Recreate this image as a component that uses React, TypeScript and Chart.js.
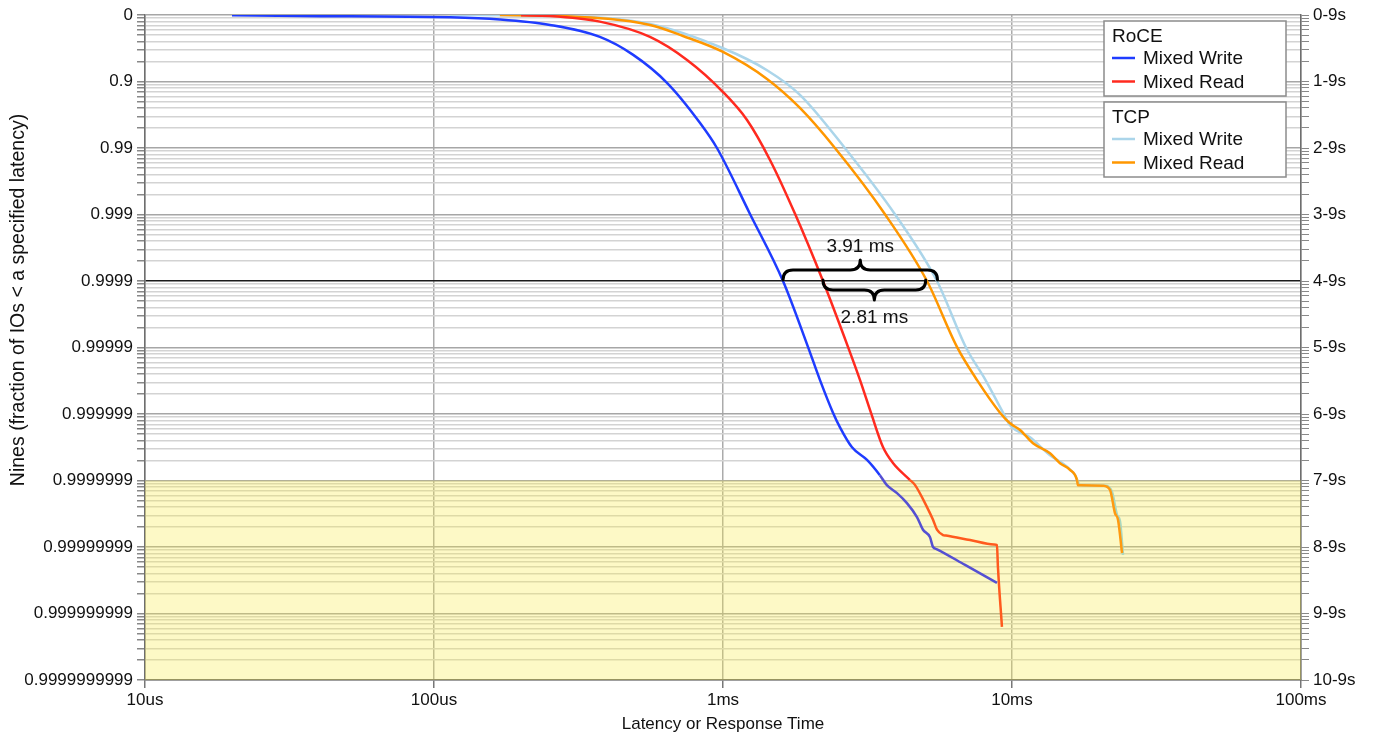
import React, { useEffect, useRef } from 'react';
import { Chart, registerables } from 'chart.js';
Chart.register(...registerables);

// Axis ticks
const xTickValues = [0.01, 0.1, 1, 10, 100]; // ms
const xTickLabels = ['10us', '100us', '1ms', '10ms', '100ms'];
const leftTickLabels = ['0', '0.9', '0.99', '0.999', '0.9999', '0.99999', '0.999999', '0.9999999', '0.99999999', '0.999999999', '0.9999999999'];
const rightTickLabels = ['0-9s', '1-9s', '2-9s', '3-9s', '4-9s', '5-9s', '6-9s', '7-9s', '8-9s', '9-9s', '10-9s'];

// RoCE Mixed Write (latency ms, nines)
const roceWriteMs = [0.02, 0.0344, 0.1136, 0.169, 0.252, 0.375, 0.489, 0.64, 0.833, 0.953, 1.24, 1.613, 1.968, 2.166, 2.402, 2.54, 2.795, 3.15, 3.49, 3.69, 4.0, 4.33, 4.69, 4.92, 5.2, 5.33, 5.5, 6.88, 8.87];
const roceWriteNines = [0.005, 0.015, 0.035, 0.068, 0.15, 0.33, 0.6, 1.02, 1.624, 2.0, 2.992, 4.0, 4.99, 5.49, 5.98, 6.2, 6.5, 6.69, 6.92, 7.07, 7.19, 7.34, 7.55, 7.74, 7.85, 8.0, 8.034, 8.27, 8.54];

// RoCE Mixed Read
const roceReadMs = [0.2, 0.252, 0.375, 0.559, 0.751, 1.0, 1.211, 1.454, 1.775, 2.218, 2.707, 2.98, 3.25, 3.58, 3.88, 4.43, 4.62, 5.08, 5.33, 5.5, 5.77, 5.91, 7.16, 8.66, 8.87, 8.94, 9.23];
const roceReadNines = [0.005, 0.015, 0.1, 0.33, 0.677, 1.158, 1.579, 2.18, 2.99, 4.0, 4.99, 5.49, 5.98, 6.5, 6.74, 6.99, 7.07, 7.4, 7.59, 7.74, 7.82, 7.828, 7.895, 7.961, 7.97, 8.3, 9.2];

// TCP Mixed Write
const tcpWriteMs = [0.1136, 0.273, 0.559, 1.0, 1.42, 1.846, 2.64, 3.94, 5.5, 6.93, 8.1, 9.31, 9.84, 11.54, 13.54, 15.26, 16.52, 17.19, 17.6, 20.98, 22.18, 23.1, 23.64, 24.22];
const tcpWriteNines = [0.0, 0.015, 0.135, 0.5, 0.83, 1.2, 2.0, 3.0, 4.0, 5.0, 5.49, 5.98, 6.17, 6.35, 6.62, 6.77, 6.92, 7.07, 7.075, 7.08, 7.17, 7.52, 7.61, 8.12];

// TCP Mixed Read
const tcpReadMs = [0.169, 0.273, 0.559, 0.727, 1.0, 1.42, 1.846, 2.44, 3.64, 5.08, 6.45, 7.57, 9.09, 9.84, 10.66, 11.82, 13.54, 14.66, 15.87, 16.78, 16.91, 17.3, 20.65, 21.83, 22.71, 23.27, 24.03];
const tcpReadNines = [0.0, 0.015, 0.15, 0.316, 0.556, 0.962, 1.398, 2.0, 3.0, 4.0, 4.99, 5.49, 5.98, 6.14, 6.24, 6.44, 6.59, 6.74, 6.84, 6.99, 7.07, 7.07, 7.08, 7.14, 7.49, 7.59, 8.09];

// Annotations at the 4-nines level
const gapLevelNines = 4;
const gapStartMs = [1.613, 2.218];
const gapWidthMs = [3.91, 2.81];
const gapLabels = ['3.91 ms', '2.81 ms'];
const shadedFromNines = 7;

const legendGroups = ['RoCE', 'TCP'];
const legendNames = ['Mixed Write', 'Mixed Read'];

const COLORS = {
  roceWrite: '#1f3cff',
  roceRead: '#ff2a1f',
  tcpWrite: '#abd5ea',
  tcpRead: '#ff9700',
};
const SHADED = {
  roceWrite: '#5550d2',
  roceRead: '#ff5a1e',
  tcpWrite: '#a9d8c0',
  tcpRead: '#ff9a10',
};

const FONT = '"Liberation Sans", Arial, Helvetica, sans-serif';

function buildYTicks() {
  const t: { value: number }[] = [];
  for (let n = 0; n < 10; n++) {
    t.push({ value: n });
    for (let k = 9; k >= 2; k--) t.push({ value: n + 1 - Math.log10(k) });
  }
  t.push({ value: 10 });
  return t;
}
const isMajor = (v: number) => Math.abs(v - Math.round(v)) < 1e-9;

function toPoints(xs: number[], ys: number[]) {
  return xs.map((x, i) => ({ x, y: ys[i] }));
}

function drawBrace(ctx: CanvasRenderingContext2D, x1: number, x2: number, y: number, dir: number) {
  const h = 10 * dir;
  const tip = 20 * dir;
  const r = 10;
  const m = (x1 + x2) / 2;
  ctx.beginPath();
  ctx.moveTo(x1, y);
  ctx.quadraticCurveTo(x1, y + h, x1 + r, y + h);
  ctx.lineTo(m - r, y + h);
  ctx.quadraticCurveTo(m, y + h, m, y + tip);
  ctx.quadraticCurveTo(m, y + h, m + r, y + h);
  ctx.lineTo(x2 - r, y + h);
  ctx.quadraticCurveTo(x2, y + h, x2, y);
  ctx.stroke();
}

const customPlugin = {
  id: 'custom',
  beforeDatasetsDraw(chart: any) {
    const { ctx, chartArea, scales } = chart;
    const y7 = scales.y.getPixelForValue(shadedFromNines);
    ctx.save();
    ctx.fillStyle = 'rgba(248,235,65,0.3)';
    ctx.fillRect(chartArea.left, y7, chartArea.right - chartArea.left, chartArea.bottom - y7);
    ctx.restore();
  },
  afterDatasetsDraw(chart: any) {
    const { ctx, scales } = chart;
    const yLevel = scales.y.getPixelForValue(gapLevelNines) - 1;
    ctx.save();
    ctx.strokeStyle = '#000';
    ctx.lineWidth = 3;
    ctx.lineCap = 'round';
    ctx.lineJoin = 'round';
    ctx.fillStyle = '#111';
    ctx.font = `19px ${FONT}`;
    ctx.textAlign = 'center';
    ctx.textBaseline = 'middle';
    gapStartMs.forEach((start, i) => {
      const x1 = scales.x.getPixelForValue(start);
      const x2 = scales.x.getPixelForValue(start + gapWidthMs[i]);
      const dir = i === 0 ? -1 : 1;
      drawBrace(ctx, x1, x2, yLevel, dir);
      const m = (x1 + x2) / 2;
      ctx.fillText(gapLabels[i], m, yLevel + (i === 0 ? -33 : 38));
    });
    ctx.restore();
  },
  afterDraw(chart: any) {
    const { ctx, chartArea } = chart;
    ctx.save();
    // axis titles
    ctx.fillStyle = '#111';
    ctx.font = `17px ${FONT}`;
    ctx.textAlign = 'center';
    ctx.textBaseline = 'middle';
    ctx.fillText('Latency or Response Time', (chartArea.left + chartArea.right) / 2, 724);
    ctx.save();
    ctx.font = `19.5px ${FONT}`;
    ctx.translate(19, 300);
    ctx.rotate(-Math.PI / 2);
    ctx.fillText('Nines (fraction of IOs < a specified latency)', 0, 0);
    ctx.restore();

    // legend boxes
    const colorsByGroup = [
      [COLORS.roceWrite, COLORS.roceRead],
      [COLORS.tcpWrite, COLORS.tcpRead],
    ];
    const boxLeft = 1104, boxW = 182, boxH = 75;
    const boxTops = [21, 102];
    legendGroups.forEach((g, gi) => {
      const top = boxTops[gi];
      ctx.fillStyle = '#fff';
      ctx.fillRect(boxLeft, top, boxW, boxH);
      ctx.strokeStyle = '#8c8c8c';
      ctx.lineWidth = 1.5;
      ctx.strokeRect(boxLeft, top, boxW, boxH);
      ctx.fillStyle = '#111';
      ctx.font = `19px ${FONT}`;
      ctx.textAlign = 'left';
      ctx.textBaseline = 'middle';
      ctx.fillText(g, 1112, top + 16);
      legendNames.forEach((name, ni) => {
        const y = top + 37 + ni * 23.5;
        ctx.strokeStyle = colorsByGroup[gi][ni];
        ctx.lineWidth = 2.5;
        ctx.beginPath();
        ctx.moveTo(1112, y);
        ctx.lineTo(1135, y);
        ctx.stroke();
        ctx.fillStyle = '#111';
        ctx.fillText(name, 1143, y + 1);
      });
    });
    ctx.restore();
  },
};

function makeDataset(label: string, xs: number[], ys: number[], color: string, shaded: string, order: number) {
  return {
    label,
    data: toPoints(xs, ys),
    borderColor: color,
    backgroundColor: color,
    borderWidth: 2.5,
    pointRadius: 0,
    cubicInterpolationMode: 'monotone' as const,
    order,
    segment: {
      borderColor: (c: any) => (c.p1.parsed.y > shadedFromNines + 0.02 ? shaded : undefined),
    },
  };
}

export default function App() {
  const ref = useRef<HTMLCanvasElement | null>(null);
  useEffect(() => {
    document.body.style.margin = '0';
    document.body.style.overflow = 'hidden';
    const canvas = ref.current;
    if (!canvas) return;
    const yTickOpts = (labels: string[]) => ({
      autoSkip: false,
      font: { family: FONT, size: 17 },
      color: '#111',
      padding: 4,
      callback: (v: any) => (isMajor(Number(v)) ? labels[Math.round(Number(v))] : ''),
    });
    const chart = new Chart(canvas, {
      type: 'line',
      data: {
        datasets: [
          makeDataset('RoCE Mixed Write', roceWriteMs, roceWriteNines, COLORS.roceWrite, SHADED.roceWrite, 0),
          makeDataset('RoCE Mixed Read', roceReadMs, roceReadNines, COLORS.roceRead, SHADED.roceRead, 1),
          makeDataset('TCP Mixed Read', tcpReadMs, tcpReadNines, COLORS.tcpRead, SHADED.tcpRead, 2),
          makeDataset('TCP Mixed Write', tcpWriteMs, tcpWriteNines, COLORS.tcpWrite, SHADED.tcpWrite, 3),
        ],
      },
      options: {
        animation: false,
        responsive: false,
        maintainAspectRatio: false,
        devicePixelRatio: 1,
        layout: { padding: { top: 15, left: 0, right: 0, bottom: 0 } },
        plugins: { legend: { display: false }, tooltip: { enabled: false } },
        scales: {
          x: {
            type: 'logarithmic',
            min: 0.01,
            max: 100,
            afterBuildTicks: (s: any) => {
              s.ticks = xTickValues.map((value) => ({ value }));
            },
            afterFit: (s: any) => {
              s.height = 56;
            },
            ticks: {
              autoSkip: false,
              maxRotation: 0,
              font: { family: FONT, size: 17 },
              color: '#111',
              padding: 2,
              callback: (v: any) => {
                const i = xTickValues.findIndex((t) => Math.abs(Math.log10(t) - Math.log10(Number(v))) < 1e-6);
                return i >= 0 ? xTickLabels[i] : '';
              },
            },
            grid: { color: '#ababab', lineWidth: 1.5, tickLength: 8, tickColor: '#777' },
            border: { color: '#6e6e6e', width: 1.5 },
          },
          y: {
            type: 'linear',
            position: 'left',
            min: 0,
            max: 10,
            reverse: true,
            afterBuildTicks: (s: any) => {
              s.ticks = buildYTicks();
            },
            afterFit: (s: any) => {
              s.width = 145;
            },
            ticks: yTickOpts(leftTickLabels),
            grid: {
              tickLength: 8,
              tickColor: '#888',
              color: (c: any) => {
                const v = c.tick ? c.tick.value : 0;
                if (Math.abs(v - gapLevelNines) < 1e-9) return '#1a1a1a';
                return isMajor(v) ? '#a6a6a6' : '#d3d3d3';
              },
              lineWidth: (c: any) => {
                const v = c.tick ? c.tick.value : 0;
                return Math.abs(v - gapLevelNines) < 1e-9 ? 1.6 : 1.5;
              },
            },
            border: { color: '#6e6e6e', width: 1.5 },
          },
          y2: {
            type: 'linear',
            position: 'right',
            min: 0,
            max: 10,
            reverse: true,
            afterBuildTicks: (s: any) => {
              s.ticks = buildYTicks();
            },
            afterFit: (s: any) => {
              s.width = 73;
            },
            ticks: yTickOpts(rightTickLabels),
            grid: { drawOnChartArea: false, tickLength: 8, tickColor: '#888', color: '#888' },
            border: { color: '#6e6e6e', width: 1.5 },
          },
        },
      } as any,
      plugins: [customPlugin],
    });
    return () => chart.destroy();
  }, []);
  return <canvas ref={ref} width={1374} height={736} style={{ display: 'block' }} />;
}
